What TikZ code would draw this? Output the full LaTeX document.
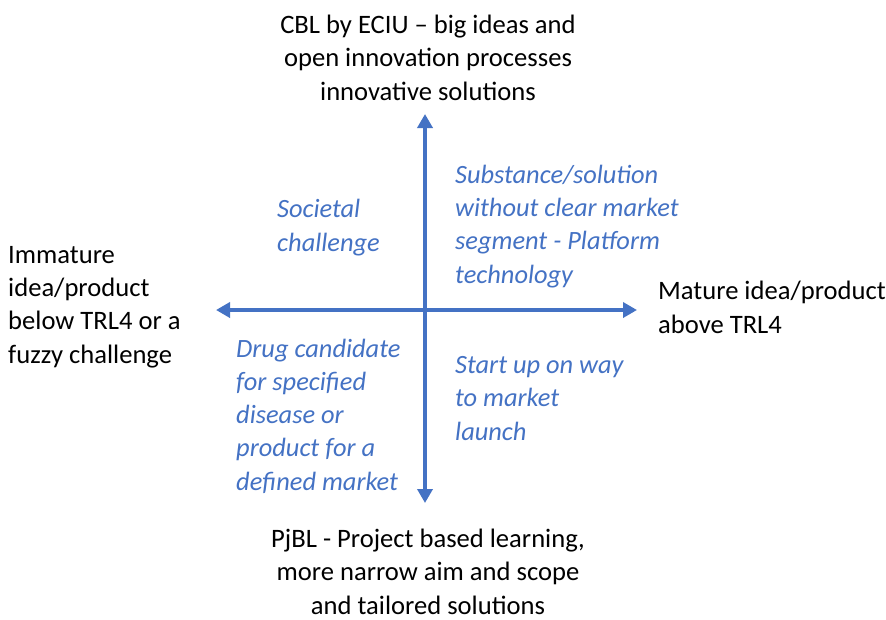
\documentclass[tikz,border=0pt]{standalone}
\usepackage{fontspec}
\setmainfont{Carlito}
\usetikzlibrary{arrows.meta}
\definecolor{axisblue}{HTML}{4472C4}
\begin{document}
\begin{tikzpicture}[x=1pt,y=-1pt,
  lbl/.style={inner sep=0pt, font=\fontsize{26.6}{33.2}\selectfont},
  quad/.style={inner sep=0pt, text=axisblue, align=left, anchor=base west, font=\fontsize{26.4}{33.2}\selectfont\itshape},
  axisline/.style={draw=axisblue, line width=3.5pt, {Triangle[length=14pt,width=15pt]}-{Triangle[length=14pt,width=15pt]}}]
\useasboundingbox[fill=white] (0,0) rectangle (886,619);
\coordinate (top) at (425,114);
\coordinate (bot) at (425,503);
\coordinate (lft) at (216,310);
\coordinate (rgt) at (637,310);
\draw[axisline] (bot) -- (top);
\draw[axisline] (lft) -- (rgt);
\node[lbl, align=center, anchor=base] (ttext) at (428,100) {CBL by ECIU -- big ideas and\\open innovation processes\\innovative solutions};
\node[lbl, align=center, anchor=base] (btext) at (428,614) {PjBL - Project based learning,\\more narrow aim and scope\\and tailored solutions};
\node[lbl, align=left, anchor=base west] (ltext) at (8,363) {Immature\\idea/product\\below TRL4 or a\\fuzzy challenge};
\node[lbl, align=left, anchor=base west] (rtext) at (658,333) {Mature idea/product\\above TRL4};
\node[quad] (q2) at (277,251) {Societal\\challenge};
\node[quad] (q1) at (455,283) {Substance/solution\\without clear market\\segment - Platform\\technology};
\node[quad] (q3) at (236,490) {Drug candidate\\for specified\\disease or\\product for a\\defined market};
\node[quad] (q4) at (455,440) {Start up on way\\to market\\launch};
\end{tikzpicture}
\end{document}
